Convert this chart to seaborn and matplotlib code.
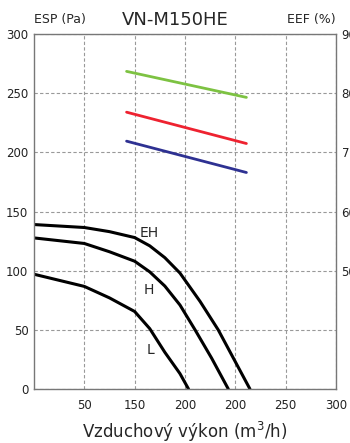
import matplotlib
matplotlib.use("Agg")
import matplotlib.pyplot as plt
import seaborn as sns
import pandas as pd

# pressure curves (left axis, Pa)
eh_x = [0, 50, 75, 100, 115, 130, 145, 165, 183, 200, 214.5]
eh_y = [139, 136.5, 133, 128, 121, 111, 98, 74, 50, 23, 0]
h_x = [0, 50, 75, 100, 115, 130, 145, 160, 176.5, 193]
h_y = [127.7, 123, 116, 108, 99, 87, 71, 50, 26, 0]
l_x = [0, 50, 75, 100, 115, 130, 145, 153.5]
l_y = [97, 86.7, 77, 65.5, 51, 31, 13, 0]

# efficiency lines (right axis, %)
eef_x = [92, 211]
eef_green = [83.7, 79.3]
eef_red = [76.8, 71.5]
eef_blue = [71.9, 66.6]

x_ticks = [50, 100, 150, 200, 250, 300]
x_labels = ["50", "150", "200", "200", "250", "300"]
left_ticks = [0, 50, 100, 150, 200, 250, 300]
right_ticks = [50, 60, 70, 80, 90]

sns.set_style("white")
plt.rcParams["font.family"] = ["DejaVu Sans"]

fig = plt.figure(figsize=(3.5, 4.43), dpi=100)
ax = fig.add_axes([0.097, 0.122, 0.863, 0.801])

curves = pd.concat([
    pd.DataFrame({"x": eh_x, "y": eh_y, "mode": "EH"}),
    pd.DataFrame({"x": h_x, "y": h_y, "mode": "H"}),
    pd.DataFrame({"x": l_x, "y": l_y, "mode": "L"}),
])
sns.lineplot(data=curves, x="x", y="y", units="mode", estimator=None,
             color="black", lw=2.2, sort=False, ax=ax)

ax.set_xlim(0, 300)
ax.set_ylim(0, 300)
ax.set_xticks(x_ticks)
ax.set_xticklabels(x_labels)
ax.set_yticks(left_ticks)
ax.grid(True, ls=(0, (3, 2)), color="#999999", lw=0.8)
ax.tick_params(length=0, labelsize=8.5, colors="#222222", pad=4)
ax.tick_params(axis="x", pad=7)
for s in ax.spines.values():
    s.set_color("#777777")
    s.set_linewidth(1)
ax.set_xlabel("Vzduchový výkon (m$^3$/h)", fontsize=12, labelpad=6)
ax.set_ylabel("")

ax2 = ax.twinx()
eef = pd.DataFrame({
    "x": eef_x * 3,
    "y": eef_green + eef_red + eef_blue,
    "line": ["g"] * 2 + ["r"] * 2 + ["b"] * 2,
})
sns.lineplot(data=eef, x="x", y="y", hue="line",
             palette={"g": "#7dc242", "r": "#ee2230", "b": "#2e3192"},
             lw=2, legend=False, ax=ax2)
ax2.set_ylim(30, 90)
ax2.set_yticks(right_ticks)
ax2.tick_params(length=0, labelsize=8.5, colors="#222222", pad=4)
ax2.set_ylabel("")
for s in ax2.spines.values():
    s.set_visible(False)

ax.text(114, 132, "EH", fontsize=10, ha="center", va="center")
ax.text(114, 84, "H", fontsize=10, ha="center", va="center")
ax.text(116, 33, "L", fontsize=10, ha="center", va="center")

fig.text(0.097, 0.955, "ESP (Pa)", fontsize=9, ha="left", va="center")
fig.text(0.96, 0.955, "EEF (%)", fontsize=9, ha="right", va="center")
fig.text(0.5, 0.955, "VN-M150HE", fontsize=13, ha="center", va="center")

fig.savefig("out.png", dpi=100)
